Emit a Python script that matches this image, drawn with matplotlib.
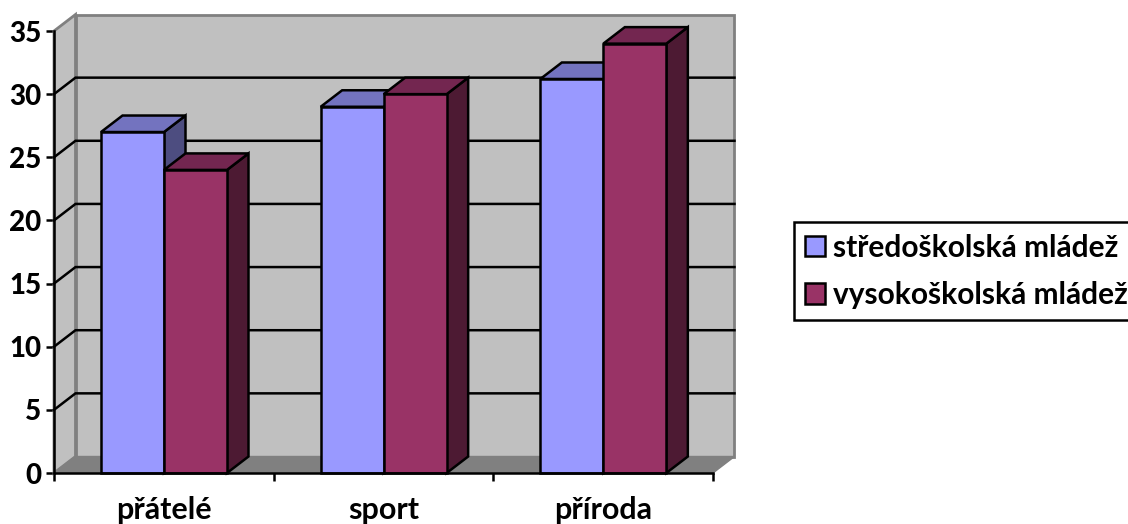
import matplotlib
matplotlib.use("Agg")
import matplotlib.pyplot as plt
from matplotlib.patches import Polygon, Patch

plt.rcParams['font.family'] = ['Lato', 'DejaVu Sans']

categories = ['přátelé', 'sport', 'příroda']
stredoskolska = [27, 29, 31.2]
vysokoskolska = [24, 30, 34]
series_names = ['středoškolská mládež', 'vysokoškolská mládež']
y_ticks = [0, 5, 10, 15, 20, 25, 30, 35]

W, H = 1128, 524
fig = plt.figure(figsize=(W / 100, H / 100), dpi=100, facecolor='white')
ax = fig.add_axes([54 / W, (H - 473) / H, 659 / W, 442 / H])
ax.set_xlim(0, 3)
ax.set_ylim(0, 35)
ax.set_facecolor('none')

px_x = 3 / 659
px_y = 35 / 442
DX = 21.5 * px_x
DY = 16.5 * px_y
TOP = 35
LW = 1.8


def poly(pts, fc, ec='black', lw=LW, z=2):
    ax.add_patch(Polygon(pts, closed=True, facecolor=fc, edgecolor=ec, linewidth=lw,
                         zorder=z, clip_on=False, joinstyle='miter'))


# walls and floor
poly([(DX, DY), (3 + DX, DY), (3 + DX, TOP + DY), (DX, TOP + DY)], '#C0C0C0', '#808080', 2)
poly([(0, 0), (DX, DY), (DX, TOP + DY), (0, TOP)], '#C0C0C0', '#808080', 2)
poly([(0, 0), (3, 0), (3 + DX, DY), (DX, DY)], '#808080', '#808080', 1)

# gridlines
for v in y_ticks[1:-1]:
    ax.plot([0, DX, 3 + DX], [v, v + DY, v + DY], color='black', lw=LW, zorder=3,
            clip_on=False, solid_joinstyle='miter')

# bars
bar_w = 63 * px_x
gap = 47 * px_x
styles = [('#9999FF', '#7373BF', '#4D4D80'), ('#993366', '#732650', '#4D1A33')]
z = 4
for i in range(len(categories)):
    for j, vals in enumerate([stredoskolska, vysokoskolska]):
        x0 = i + gap + j * bar_w
        x1 = x0 + bar_w
        v = vals[i]
        front, top, side = styles[j]
        poly([(x1, 0), (x1 + DX, DY), (x1 + DX, v + DY), (x1, v)], side, z=z)
        poly([(x0, v), (x1, v), (x1 + DX, v + DY), (x0 + DX, v + DY)], top, z=z)
        poly([(x0, 0), (x1, 0), (x1, v), (x0, v)], front, z=z)
        z += 1

# axes
for s in ['top', 'right']:
    ax.spines[s].set_visible(False)
for s in ['left', 'bottom']:
    ax.spines[s].set_linewidth(LW)
    ax.spines[s].set_zorder(50)
ax.set_yticks(y_ticks)
ax.set_yticklabels([str(v) for v in y_ticks], fontsize=20, fontweight='black')
ax.tick_params(axis='y', length=6, width=LW, pad=3)
ax.set_xticks([0, 1, 2, 3])
ax.set_xticklabels([])
ax.tick_params(axis='x', which='major', length=6, width=LW)
ax.set_xticks([0.5, 1.5, 2.5], minor=True)
ax.set_xticklabels(categories, minor=True, fontsize=22, fontweight='bold')
ax.tick_params(axis='x', which='minor', length=0, pad=16.5)

# legend
handles = [Patch(facecolor=styles[k][0], edgecolor='black', linewidth=LW, label=series_names[k])
           for k in range(2)]
leg = fig.legend(handles=handles, loc='lower left', bbox_to_anchor=(794 / W, (H - 320) / H),
                 borderaxespad=0, frameon=True, fancybox=False, edgecolor='black',
                 framealpha=1, prop={'weight': 'bold', 'size': 21.5},
                 handlelength=0.67, handleheight=0.67, handletextpad=0.27,
                 labelspacing=0.65, borderpad=0.37)
leg.get_frame().set_linewidth(LW)

fig.savefig('out.png', dpi=100)
